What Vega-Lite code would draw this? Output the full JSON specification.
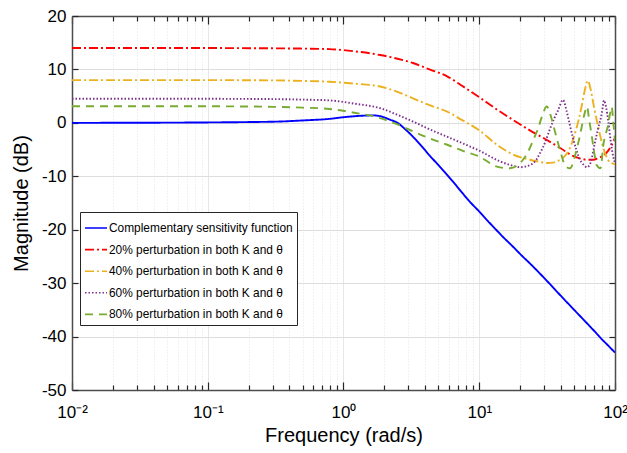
{
  "$schema": "https://vega.github.io/schema/vega-lite/v6.json",
  "width": 543,
  "height": 374,
  "autosize": "none",
  "padding": {"left": 72, "top": 16, "right": 12, "bottom": 63},
  "background": "white",
  "config": {
    "view": {"stroke": null},
    "font": "Liberation Sans",
    "axis": {
      "domainColor": "#4d4d4d",
      "domainWidth": 1.5,
      "tickColor": "#262626",
      "tickWidth": 1.2,
      "labelColor": "#000000",
      "labelFont": "Liberation Sans",
      "labelFontSize": 17,
      "titleFont": "Liberation Sans",
      "titleFontSize": 20,
      "titleFontWeight": "normal",
      "titleColor": "#000000",
      "labelOverlap": false,
      "labelFlush": false
    },
    "legend": {
      "orient": "none",
      "legendX": 8,
      "legendY": 196,
      "padding": 4,
      "fillColor": "white",
      "strokeColor": "#262626",
      "symbolType": "stroke",
      "symbolSize": 484,
      "symbolStrokeWidth": 1.6,
      "labelFont": "Liberation Sans",
      "labelFontSize": 11.9,
      "labelColor": "#000000",
      "rowPadding": 3.6,
      "labelOffset": 1,
      "labelLimit": 0
    }
  },
  "data": {
    "values": [
      {"s": "T", "f": 0.01, "db": 0},
      {"s": "T", "f": 0.03, "db": 0.02},
      {"s": "T", "f": 0.1, "db": 0.08},
      {"s": "T", "f": 0.2, "db": 0.15},
      {"s": "T", "f": 0.34, "db": 0.25},
      {"s": "T", "f": 0.5, "db": 0.45},
      {"s": "T", "f": 0.79, "db": 0.75},
      {"s": "T", "f": 1.0, "db": 1.05},
      {"s": "T", "f": 1.3, "db": 1.3},
      {"s": "T", "f": 1.65, "db": 1.4},
      {"s": "T", "f": 1.9, "db": 1.2},
      {"s": "T", "f": 2.2, "db": 0.6},
      {"s": "T", "f": 2.5, "db": 0},
      {"s": "T", "f": 2.85, "db": -1.2},
      {"s": "T", "f": 3.25, "db": -2.6},
      {"s": "T", "f": 3.8, "db": -4.5},
      {"s": "T", "f": 4.34, "db": -6.2},
      {"s": "T", "f": 5.0, "db": -7.9},
      {"s": "T", "f": 5.65, "db": -9.4},
      {"s": "T", "f": 6.5, "db": -11.2},
      {"s": "T", "f": 7.55, "db": -13.2},
      {"s": "T", "f": 8.7, "db": -15.0},
      {"s": "T", "f": 10, "db": -16.6},
      {"s": "T", "f": 11.5, "db": -18.3},
      {"s": "T", "f": 13.3, "db": -20},
      {"s": "T", "f": 15.3, "db": -21.6},
      {"s": "T", "f": 17.6, "db": -23.1},
      {"s": "T", "f": 20.3, "db": -24.7},
      {"s": "T", "f": 23.6, "db": -26.3},
      {"s": "T", "f": 30, "db": -29},
      {"s": "T", "f": 40, "db": -32.4},
      {"s": "T", "f": 50, "db": -35},
      {"s": "T", "f": 60, "db": -37.1},
      {"s": "T", "f": 70, "db": -38.9},
      {"s": "T", "f": 80, "db": -40.5},
      {"s": "T", "f": 90, "db": -41.8},
      {"s": "T", "f": 100, "db": -43},

      {"s": "P20", "f": 0.01, "db": 14.0},
      {"s": "P20", "f": 0.1, "db": 14.0},
      {"s": "P20", "f": 0.3, "db": 13.95},
      {"s": "P20", "f": 0.5, "db": 13.9},
      {"s": "P20", "f": 0.79, "db": 13.8},
      {"s": "P20", "f": 1.2, "db": 13.4},
      {"s": "P20", "f": 1.86, "db": 12.7},
      {"s": "P20", "f": 2.5, "db": 12.0},
      {"s": "P20", "f": 3.25, "db": 11.2},
      {"s": "P20", "f": 4.3, "db": 10.0},
      {"s": "P20", "f": 5.8, "db": 8.7},
      {"s": "P20", "f": 7.5, "db": 6.9},
      {"s": "P20", "f": 10, "db": 4.8},
      {"s": "P20", "f": 13.3, "db": 2.6},
      {"s": "P20", "f": 17.7, "db": 0.56},
      {"s": "P20", "f": 23.6, "db": -1.4},
      {"s": "P20", "f": 31.5, "db": -3.2},
      {"s": "P20", "f": 40, "db": -4.8},
      {"s": "P20", "f": 49, "db": -6.2},
      {"s": "P20", "f": 56, "db": -6.7},
      {"s": "P20", "f": 63, "db": -6.9},
      {"s": "P20", "f": 69, "db": -6.9},
      {"s": "P20", "f": 75, "db": -6.6},
      {"s": "P20", "f": 82, "db": -6.1},
      {"s": "P20", "f": 88, "db": -5.4},
      {"s": "P20", "f": 94, "db": -4.3},
      {"s": "P20", "f": 100, "db": -2.8},

      {"s": "P40", "f": 0.01, "db": 8.0},
      {"s": "P40", "f": 0.1, "db": 8.0},
      {"s": "P40", "f": 0.3, "db": 7.95},
      {"s": "P40", "f": 0.5, "db": 7.85},
      {"s": "P40", "f": 0.79, "db": 7.7},
      {"s": "P40", "f": 1.2, "db": 7.35},
      {"s": "P40", "f": 1.86, "db": 6.8},
      {"s": "P40", "f": 2.5, "db": 5.8},
      {"s": "P40", "f": 3.25, "db": 4.6},
      {"s": "P40", "f": 4.3, "db": 3.3},
      {"s": "P40", "f": 5.8, "db": 2.1},
      {"s": "P40", "f": 7.5, "db": 0.5},
      {"s": "P40", "f": 10, "db": -1.4},
      {"s": "P40", "f": 13.5, "db": -4.1},
      {"s": "P40", "f": 17.7, "db": -5.9},
      {"s": "P40", "f": 23.6, "db": -6.9},
      {"s": "P40", "f": 28, "db": -7.3},
      {"s": "P40", "f": 31.5, "db": -7.5},
      {"s": "P40", "f": 35, "db": -7.45},
      {"s": "P40", "f": 38, "db": -7.1},
      {"s": "P40", "f": 42, "db": -6.4},
      {"s": "P40", "f": 46, "db": -5.0},
      {"s": "P40", "f": 50, "db": -2.5},
      {"s": "P40", "f": 54, "db": 0.6},
      {"s": "P40", "f": 57, "db": 3.3},
      {"s": "P40", "f": 60, "db": 6.2},
      {"s": "P40", "f": 63, "db": 7.9},
      {"s": "P40", "f": 66, "db": 6.4},
      {"s": "P40", "f": 70, "db": 3.0},
      {"s": "P40", "f": 75, "db": -0.6},
      {"s": "P40", "f": 80, "db": -3.7},
      {"s": "P40", "f": 86, "db": -6.2},
      {"s": "P40", "f": 92, "db": -7.4},
      {"s": "P40", "f": 100, "db": -7.7},

      {"s": "P60", "f": 0.01, "db": 4.5},
      {"s": "P60", "f": 0.1, "db": 4.5},
      {"s": "P60", "f": 0.3, "db": 4.45},
      {"s": "P60", "f": 0.5, "db": 4.35},
      {"s": "P60", "f": 0.79, "db": 4.2},
      {"s": "P60", "f": 1.2, "db": 3.6},
      {"s": "P60", "f": 1.86, "db": 2.75},
      {"s": "P60", "f": 2.5, "db": 1.5},
      {"s": "P60", "f": 3.25, "db": 0.25},
      {"s": "P60", "f": 4.3, "db": -1.2},
      {"s": "P60", "f": 5.8, "db": -2.6},
      {"s": "P60", "f": 7.5, "db": -3.8},
      {"s": "P60", "f": 10, "db": -5.2},
      {"s": "P60", "f": 14.2, "db": -7.2},
      {"s": "P60", "f": 17, "db": -7.9},
      {"s": "P60", "f": 20, "db": -8.3},
      {"s": "P60", "f": 23.6, "db": -7.9},
      {"s": "P60", "f": 26, "db": -7.1},
      {"s": "P60", "f": 28, "db": -5.7},
      {"s": "P60", "f": 30.5, "db": -3.7},
      {"s": "P60", "f": 33, "db": -1.3},
      {"s": "P60", "f": 35.5, "db": 0.7},
      {"s": "P60", "f": 38, "db": 2.3},
      {"s": "P60", "f": 41.4, "db": 4.3},
      {"s": "P60", "f": 44, "db": 2.2},
      {"s": "P60", "f": 46.5, "db": -0.4},
      {"s": "P60", "f": 49, "db": -2.8},
      {"s": "P60", "f": 52, "db": -5.1},
      {"s": "P60", "f": 55, "db": -6.8},
      {"s": "P60", "f": 58.5, "db": -7.8},
      {"s": "P60", "f": 62.2, "db": -8.3},
      {"s": "P60", "f": 66, "db": -7.5},
      {"s": "P60", "f": 71, "db": -3.8},
      {"s": "P60", "f": 75, "db": -1.1},
      {"s": "P60", "f": 80, "db": 1.8},
      {"s": "P60", "f": 83, "db": 4.2},
      {"s": "P60", "f": 86, "db": 2.9},
      {"s": "P60", "f": 89, "db": 0.5},
      {"s": "P60", "f": 93, "db": -3.4},
      {"s": "P60", "f": 97, "db": -6.3},
      {"s": "P60", "f": 100, "db": -7.5},

      {"s": "P80", "f": 0.01, "db": 3.1},
      {"s": "P80", "f": 0.1, "db": 3.1},
      {"s": "P80", "f": 0.3, "db": 3.0},
      {"s": "P80", "f": 0.5, "db": 2.85},
      {"s": "P80", "f": 0.79, "db": 2.6},
      {"s": "P80", "f": 1.2, "db": 1.9},
      {"s": "P80", "f": 1.86, "db": 0.9},
      {"s": "P80", "f": 2.5, "db": -0.3},
      {"s": "P80", "f": 3.25, "db": -1.6},
      {"s": "P80", "f": 4.3, "db": -2.9},
      {"s": "P80", "f": 5.8, "db": -4.1},
      {"s": "P80", "f": 7.5, "db": -5.2},
      {"s": "P80", "f": 10, "db": -6.3},
      {"s": "P80", "f": 13.5, "db": -8.2},
      {"s": "P80", "f": 16.8, "db": -8.5},
      {"s": "P80", "f": 19, "db": -8.0},
      {"s": "P80", "f": 21, "db": -6.9},
      {"s": "P80", "f": 23, "db": -5.3},
      {"s": "P80", "f": 25, "db": -3.2},
      {"s": "P80", "f": 27, "db": -1.2},
      {"s": "P80", "f": 29, "db": 1.2},
      {"s": "P80", "f": 31.4, "db": 3.05},
      {"s": "P80", "f": 34, "db": 0.9},
      {"s": "P80", "f": 36, "db": -1.5},
      {"s": "P80", "f": 38.1, "db": -3.8},
      {"s": "P80", "f": 40.5, "db": -6.2},
      {"s": "P80", "f": 42.7, "db": -7.9},
      {"s": "P80", "f": 46.5, "db": -8.5},
      {"s": "P80", "f": 49, "db": -7.6},
      {"s": "P80", "f": 52, "db": -5.1},
      {"s": "P80", "f": 54.5, "db": -3.0},
      {"s": "P80", "f": 56.9, "db": -0.7},
      {"s": "P80", "f": 59.5, "db": 1.6},
      {"s": "P80", "f": 62.2, "db": 3.05},
      {"s": "P80", "f": 64.5, "db": 0.6},
      {"s": "P80", "f": 67.2, "db": -2.2},
      {"s": "P80", "f": 70, "db": -5.2},
      {"s": "P80", "f": 73.2, "db": -7.9},
      {"s": "P80", "f": 78, "db": -8.5},
      {"s": "P80", "f": 80, "db": -7.0},
      {"s": "P80", "f": 81.8, "db": -4.4},
      {"s": "P80", "f": 85, "db": -2.3},
      {"s": "P80", "f": 89, "db": -0.4},
      {"s": "P80", "f": 92, "db": 1.8},
      {"s": "P80", "f": 94.5, "db": 3.0},
      {"s": "P80", "f": 97, "db": 0.3},
      {"s": "P80", "f": 100, "db": -3.5}
    ]
  },
  "layer": [
    {
      "mark": {"type": "line", "strokeWidth": 1.9, "interpolate": "monotone", "clip": true},
      "encoding": {
        "x": {
          "field": "f", "type": "quantitative",
          "scale": {"type": "log", "domain": [0.01, 100], "nice": false},
          "axis": {
            "orient": "bottom",
            "values": [0.01, 0.02, 0.03, 0.04, 0.05, 0.06, 0.07, 0.08, 0.09, 0.1, 0.2, 0.3, 0.4, 0.5, 0.6, 0.7, 0.8, 0.9, 1, 2, 3, 4, 5, 6, 7, 8, 9, 10, 20, 30, 40, 50, 60, 70, 80, 90, 100],
            "grid": true,
            "gridColor": {"condition": {"test": "datum.value == 0.01 || datum.value == 0.1 || datum.value == 1 || datum.value == 10 || datum.value == 100", "value": "#dedede"}, "value": "#e4e4e4"},
            "gridDash": {"condition": {"test": "datum.value == 0.01 || datum.value == 0.1 || datum.value == 1 || datum.value == 10 || datum.value == 100", "value": [1, 0]}, "value": [1, 2]},
            "tickSize": {"condition": {"test": "datum.value == 0.01 || datum.value == 0.1 || datum.value == 1 || datum.value == 10 || datum.value == 100", "value": -8}, "value": -5},
            "labelExpr": "datum.value == 0.01 ? '10⁻²' : datum.value == 0.1 ? '10⁻¹' : datum.value == 1 ? '10⁰' : datum.value == 10 ? '10¹' : datum.value == 100 ? '10²' : ''",
            "labelPadding": 22,
            "title": "Frequency (rad/s)",
            "titlePadding": 2
          }
        },
        "y": {
          "field": "db", "type": "quantitative",
          "scale": {"domain": [-50, 20], "nice": false},
          "axis": {
            "orient": "left",
            "values": [-50, -40, -30, -20, -10, 0, 10, 20],
            "grid": true,
            "gridColor": "#dedede",
            "tickSize": -6,
            "labelExpr": "datum.value + ''",
            "labelPadding": 12,
            "title": "Magnitude (dB)",
            "titlePadding": 10
          }
        },
        "color": {
          "field": "s", "type": "nominal",
          "scale": {"domain": ["T", "P20", "P40", "P60", "P80"], "range": ["#0000ff", "#ff0000", "#EDB120", "#7E2F8E", "#77AC30"]},
          "legend": {"title": null, "labelExpr": "datum.label == 'T' ? 'Complementary sensitivity function' : slice(datum.label, 1) + '% perturbation in both  K and θ'"}
        },
        "strokeDash": {
          "field": "s", "type": "nominal",
          "scale": {"domain": ["T", "P20", "P40", "P60", "P80"], "range": [[1, 0], [9, 3, 2, 3], [9, 3, 2, 3], [1.5, 2], [8, 6]]},
          "legend": {"title": null, "labelExpr": "datum.label == 'T' ? 'Complementary sensitivity function' : slice(datum.label, 1) + '% perturbation in both  K and θ'"}
        }
      }
    },
    {
      "mark": {"type": "line", "opacity": 0},
      "encoding": {
        "x": {
          "field": "f", "type": "quantitative",
          "axis": {
            "orient": "top",
            "values": [0.01, 0.02, 0.03, 0.04, 0.05, 0.06, 0.07, 0.08, 0.09, 0.1, 0.2, 0.3, 0.4, 0.5, 0.6, 0.7, 0.8, 0.9, 1, 2, 3, 4, 5, 6, 7, 8, 9, 10, 20, 30, 40, 50, 60, 70, 80, 90, 100],
            "grid": false,
            "labels": false,
            "title": null,
            "tickSize": {"condition": {"test": "datum.value == 0.01 || datum.value == 0.1 || datum.value == 1 || datum.value == 10 || datum.value == 100", "value": -8}, "value": -5}
          }
        },
        "y": {
          "field": "db", "type": "quantitative",
          "axis": {
            "orient": "right",
            "values": [-50, -40, -30, -20, -10, 0, 10, 20],
            "grid": false,
            "labels": false,
            "title": null,
            "tickSize": -6
          }
        },
        "detail": {"field": "s"}
      }
    }
  ],
  "resolve": {"axis": {"x": "independent", "y": "independent"}}
}
